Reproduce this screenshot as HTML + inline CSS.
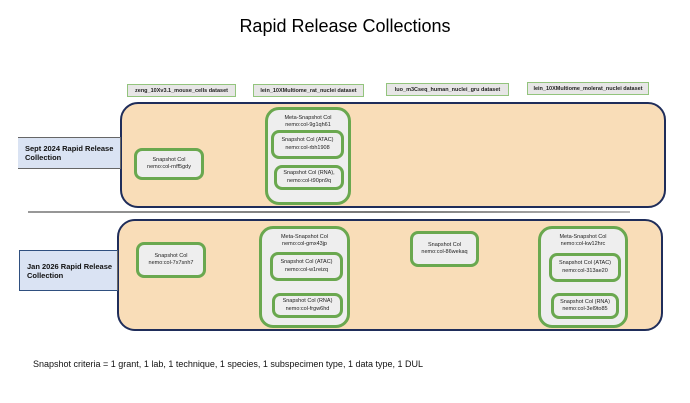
<!DOCTYPE html>
<html><head><meta charset="utf-8"><style>
body{margin:0;width:690px;height:403px;background:#fff;position:relative;overflow:hidden;font-family:"Liberation Sans",Arial,sans-serif;}
div{position:absolute;box-sizing:border-box;}
.t{white-space:nowrap;}
.ds{background:#e7e6e6;border:1.5px solid #93c47d;font-size:5.5px;font-weight:bold;display:flex;align-items:center;justify-content:center;color:#222;}
.big{background:#f9ddb8;border:2px solid #1f2d5a;border-radius:18px;}
.lab{background:#dae3f3;border-top:1.5px solid #666;border-bottom:1.5px solid #666;border-right:1.5px solid #666;font-size:7.5px;font-weight:bold;padding-left:7px;display:flex;align-items:center;line-height:1.2;color:#111;}
.sn{background:#eeeeee;border:3px solid #6aa84f;border-radius:8px;font-size:5.5px;text-align:center;display:flex;align-items:center;justify-content:center;line-height:1.3;color:#222;}
.meta{background:#eeeeee;border:3px solid #6aa84f;border-radius:14px;font-size:5.5px;text-align:center;line-height:1.3;color:#222;padding-top:5px;}
</style></head><body>
<div class="t" style="left:0;width:690px;top:16px;text-align:center;font-size:18px;">Rapid Release Collections</div>

<div class="ds" style="left:127px;top:84px;width:109px;height:13px;">zeng_10Xv3.1_mouse_cells dataset</div>
<div class="ds" style="left:253px;top:84px;width:111px;height:13px;">lein_10XMultiome_rat_nuclei dataset</div>
<div class="ds" style="left:386px;top:83px;width:123px;height:13px;">luo_m3Cseq_human_nuclei_gru dataset</div>
<div class="ds" style="left:527px;top:82px;width:122px;height:13px;">lein_10XMultiome_molerat_nuclei dataset</div>

<div class="big" style="left:120px;top:102px;width:546px;height:106px;"></div>
<div class="lab" style="left:18px;top:137px;width:103px;height:32px;">Sept 2024 Rapid Release<br>Collection</div>
<div class="sn" style="left:134px;top:148px;width:70px;height:32px;">Snapshot Col<br>nemo:col-rnff5gdy</div>
<div class="meta" style="left:265px;top:107px;width:86px;height:98px;">Meta-Snapshot Col<br>nemo:col-9g1qh61</div>
<div class="sn" style="left:271px;top:130px;width:73px;height:29px;">Snapshot Col (ATAC)<br>nemo:col-rbh1908</div>
<div class="sn" style="left:274px;top:165px;width:70px;height:25px;">Snapshot Col (RNA),<br>nemo:col-t90pn9q</div>

<div style="left:28px;top:211px;width:602px;height:1.5px;background:linear-gradient(90deg,#999,#777 60%,#bbb);"></div>

<div class="big" style="left:117px;top:219px;width:546px;height:112px;"></div>
<div class="lab" style="left:19px;top:250px;width:99px;height:41px;border-left:1.5px solid #2f4f7f;border-top-color:#2f4f7f;border-bottom-color:#2f4f7f;">Jan 2026 Rapid Release<br>Collection</div>
<div class="sn" style="left:136px;top:242px;width:70px;height:36px;">Snapshot Col<br>nemo:col-7x7snh7</div>
<div class="meta" style="left:259px;top:226px;width:91px;height:102px;">Meta-Snapshot Col<br>nemo:col-gmx43jp</div>
<div class="sn" style="left:270px;top:252px;width:73px;height:29px;">Snapshot Col (ATAC)<br>nemo:col-w1reizq</div>
<div class="sn" style="left:272px;top:293px;width:71px;height:25px;">Snapshot Col (RNA)<br>nemo:col-frgw6hd</div>
<div class="sn" style="left:410px;top:231px;width:69px;height:36px;">Snapshot Col<br>nemo:col-86wekaq</div>
<div class="meta" style="left:538px;top:226px;width:90px;height:102px;">Meta-Snapshot Col<br>nemo:col-kw12hrc</div>
<div class="sn" style="left:549px;top:253px;width:72px;height:29px;">Snapshot Col (ATAC)<br>nemo:col-313ae20</div>
<div class="sn" style="left:551px;top:293px;width:68px;height:26px;">Snapshot Col (RNA)<br>nemo:col-3el9to85</div>

<div class="t" style="left:33px;top:359px;font-size:9px;color:#111;">Snapshot criteria = 1 grant, 1 lab, 1 technique, 1 species, 1 subspecimen type, 1 data type, 1 DUL</div>
</body></html>
